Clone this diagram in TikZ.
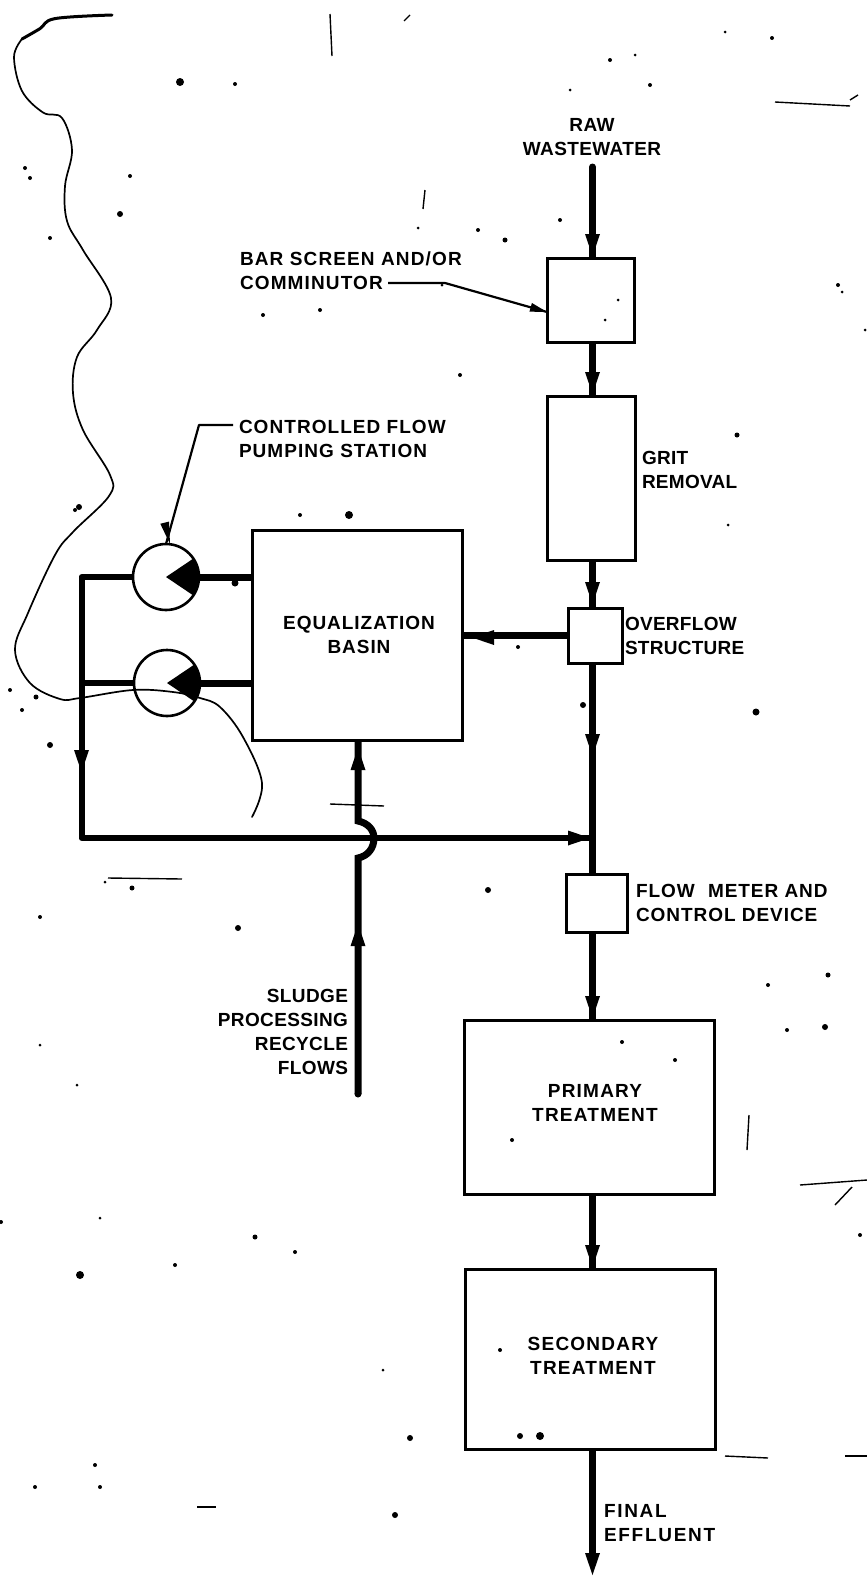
\documentclass[tikz,border=0pt]{standalone}
\usepackage{fontspec}
\setmainfont{Liberation Sans}
\newcommand{\flowtip}[2]{\fill[shift={(#1)},rotate=#2] (0,0) -- (-22,7.5) -- (-22,-7.5) -- cycle;}
\newcommand{\smalltip}[2]{\fill[shift={(#1)},rotate=#2] (0,0) -- (-17,4.5) -- (-17,-4.5) -- cycle;}
\tikzset{
  box/.style={draw,line width=3pt,inner sep=0pt,outer sep=0pt,fill=none},
  pump/.style={draw,circle,line width=2.6pt,minimum size=66pt,inner sep=0pt,outer sep=0pt},
  flow/.style={line width=7pt},
  rail/.style={line width=6pt,line join=round},
  leader/.style={line width=2.2pt,line join=round},
  squiggle/.style={line width=1.7pt,line cap=round},
  stray/.style={line width=1.4pt},
  lab/.style={font=\bfseries\fontsize{19}{24}\selectfont\addfontfeature{LetterSpace=#1},inner sep=0pt,outer sep=0pt},
  lab/.default=5
}
\begin{document}
\begin{tikzpicture}[x=1pt,y=-1pt]
\useasboundingbox[fill=white] (0,0) rectangle (867,1585);
\coordinate (m) at (592.5,0);
% process boxes
\node[box,minimum width=87pt,minimum height=84pt] (bar) at (590.5,300) {};
\node[box,minimum width=88pt,minimum height=164pt] (grit) at (591,478) {};
\node[box,minimum width=54pt,minimum height=55pt] (over) at (595,635.5) {};
\node[box,minimum width=61pt,minimum height=58pt] (meter) at (596.5,903) {};
\node[box,minimum width=210pt,minimum height=210pt] (eq) at (357,635) {};
\node[box,minimum width=250pt,minimum height=174pt] (prim) at (589.5,1107) {};
\node[box,minimum width=250pt,minimum height=180pt] (sec) at (590,1359) {};
\node[pump] (p1) at (166,577) {};
\node[pump] (p2) at (167,683) {};
% free ends
\coordinate (rawtop) at (592.5,167);
\coordinate (finalend) at (592.5,1555);
\coordinate (sludge) at (358,1094);
\coordinate (railtop) at (81.5,577);
\coordinate (railmid) at (81.5,683);
\coordinate (railbot) at (81.5,838);
\coordinate (join) at (592.5,838);
% main line
\draw[flow] (rawtop) -- (bar.north -| m);
\fill (rawtop) circle[radius=3.5];
\draw[flow] (bar.south -| m) -- (grit.north -| m);
\draw[flow] (grit.south -| m) -- (over.north -| m);
\draw[flow] (over.south -| m) -- (meter.north -| m);
\draw[flow] (meter.south -| m) -- (prim.north -| m);
\draw[flow] (prim.south -| m) -- (sec.north -| m);
\draw[flow] (sec.south -| m) -- (finalend);
\flowtip{592.5,256}{-90}
\flowtip{592.5,394}{-90}
\flowtip{592.5,604}{-90}
\flowtip{592.5,756}{-90}
\flowtip{592.5,1018}{-90}
\flowtip{592.5,1267}{-90}
\flowtip{592.5,1575}{-90}
% overflow to basin
\draw[flow] (over.west) -- (eq.east |- over.west);
\flowtip{472,637.5}{180}
% pumps
\draw[flow] (p1.east) -- (eq.west |- p1.east);
\draw[flow] (p2.east) -- (eq.west |- p2.east);
\fill (p1.center) -- +(-34:33) arc[start angle=-34,end angle=34,radius=33] -- cycle;
\fill (p2.center) -- +(-34:33) arc[start angle=-34,end angle=34,radius=33] -- cycle;
\draw[rail] (p1.west) -- (railtop) -- (railbot) -- (join);
\draw[rail] (p2.west) -- (railmid);
\flowtip{81.5,772}{-90}
\flowtip{590,838}{0}
% sludge recycle with jump
\draw[flow] (sludge) -- (358,858) .. controls (368,856) and (374,848) .. (374,838) .. controls (374,830) and (368,823) .. (358,821) -- (eq.south -| 358,0);
\fill (sludge) circle[radius=3.5];
\flowtip{358,748}{90}
\flowtip{358,924}{90}
% leaders
\coordinate (barlead) at (388,283);
\coordinate (pumplead) at (233,425);
\draw[leader] (barlead) -- (445,283) -- (bar.west |- 0,312);
\smalltip{547,312}{-16}
\draw[leader] (pumplead) -- (199,425) -- (p1.north);
\fill[shift={(170,544)},rotate=-76] (0,0) -- (-22,4.5) -- (-22,-4.5) -- cycle;
% labels
\node[lab=2,align=center] (tRaw) at (592,137.5) {RAW\\WASTEWATER};
\node[lab=6,align=left,anchor=west] (tBar) at (240,270.5) {BAR SCREEN AND/OR\\COMMINUTOR};
\node[lab=5.5,align=left,anchor=west] (tPump) at (239,438.5) {CONTROLLED FLOW\\PUMPING STATION};
\node[lab=1.5,align=left,anchor=west] (tGrit) at (642,469.5) {GRIT\\REMOVAL};
\node[lab=1.5,align=left,anchor=west] (tOver) at (625,635.5) {OVERFLOW\\STRUCTURE};
\node[lab=5,align=left,anchor=west] (tMeter) at (636,903) {FLOW\hspace{7pt} METER AND\\CONTROL DEVICE};
\node[lab=5,align=center] (tEq) at (359,634.5) {EQUALIZATION\\BASIN};
\node[lab=2,align=right,anchor=east] (tSludge) at (348,1031.5) {SLUDGE\\PROCESSING\\RECYCLE\\FLOWS};
\node[lab=6.5,align=center] (tPrim) at (595,1103) {PRIMARY\\TREATMENT};
\node[lab=6.5,align=center] (tSec) at (593,1356) {SECONDARY\\TREATMENT};
\node[lab=9,align=left,anchor=west] (tFinal) at (604,1523) {FINAL\\EFFLUENT};
% the thin curve drawn across the sheet
\draw[line width=3pt,line cap=round] plot[smooth,tension=.6] coordinates {(112,15) (55,18.6) (40,28.6) (22,39)};
\draw[squiggle] plot[smooth,tension=.6] coordinates {(22,39) (14,57) (22,91) (43,112.5) (62,118) (72,150) (65,186) (67,221) (83,250) (111,298) (97,330) (77,357) (73,393) (83,430) (110,475) (109,496) (73,532) (55,555) (28,613) (15,650) (30,683) (60,699) (80,698) (133,690) (173,692) (200,698) (220,707) (243,737) (262,783) (252,817)};
% stray marks of the sheet
\foreach \a/\b/\c/\d in {330/14/332/56, 775/102/850/106, 850/100/858/95, 108/878/182/879, 330/804/384/806, 749/1115/747/1150, 725/1456/768/1458, 845/1456/867/1456, 197/1507/216/1507, 800/1185/867/1180, 835/1205/852/1187, 410/15/404/21, 425/190/423/209}
  \draw[stray] (\a,\b) -- (\c,\d);
\foreach \x/\y/\r in {180/82/4, 235/84/2, 30/178/2, 130/176/2, 25/168/2, 50/238/2, 120/214/3, 79/507/3, 75/510/2, 349/515/4, 300/515/2, 235/583/3.5, 36/697/2.5, 22/710/2, 50/745/3, 132/888/2.5, 238/928/3, 40/917/2, 105/882/1.5, 77/1085/1.5, 40/1045/1.5, 10/690/2, 518/647/2, 583/705/3, 756/712/3.5, 737/435/2.5, 825/1027/3, 622/1042/2, 675/1060/2, 512/1140/2, 1/1222/2, 80/1275/4, 100/1218/1.5, 255/1237/2.5, 295/1252/2, 175/1265/2, 395/1515/3, 410/1438/3, 540/1436/4, 520/1436/3, 500/1350/2, 860/1235/2, 95/1465/2, 35/1487/2, 100/1487/2, 505/240/2.5, 478/230/2, 560/220/2, 442/285/1.5, 460/375/2, 418/228/1.5, 263/315/2, 320/310/2, 838/285/2, 772/38/2, 725/32/1.5, 650/85/2, 610/60/2, 635/55/1.5, 728/525/1.5, 787/1030/2, 768/985/2, 828/975/2.5, 488/890/3, 383/1370/1.5, 605/320/1.5, 618/300/1.5, 570/90/1.5, 865/330/1.5, 842/292/1.5}
  \fill (\x,\y) circle[radius=\r];
\end{tikzpicture}
\end{document}
